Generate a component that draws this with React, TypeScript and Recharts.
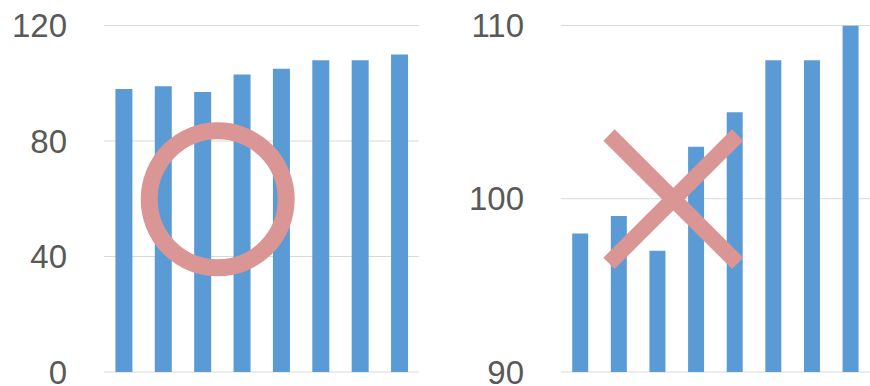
import React from 'react';
import { BarChart, Bar, XAxis, YAxis, CartesianGrid } from 'recharts';

const categories = ['1', '2', '3', '4', '5', '6', '7', '8'];
const values = [98, 99, 97, 103, 105, 108, 108, 110];
const leftTicks = [0, 40, 80, 120];
const rightTicks = [90, 100, 110];

const data = categories.map((name, i) => ({ name, value: values[i] }));

const BLUE = '#5b9bd5';
const PINK = '#d99694';
const tickStyle = { fill: '#595959', fontSize: 33, fontFamily: '"Liberation Sans", Arial, sans-serif' };

const App: React.FC = () => {
    return (
        <div style={{ position: 'absolute', left: 0, top: 0, width: 870, height: 386, background: '#fff' }}>
            <div style={{ position: 'absolute', left: 0, top: 0 }}>
                <BarChart width={435} height={386} data={data} margin={{ top: 25.5, right: 16, bottom: 14, left: 0 }} barCategoryGap="29%">
                    <CartesianGrid vertical={false} stroke="#d9d9d9" strokeWidth={1.2} />
                    <XAxis dataKey="name" hide />
                    <YAxis
                        width={104}
                        domain={[0, 120]}
                        ticks={leftTicks}
                        axisLine={false}
                        tickLine={false}
                        tickSize={0}
                        tickMargin={37}
                        tick={tickStyle}
                        interval={0}
                    />
                    <Bar dataKey="value" fill={BLUE} isAnimationActive={false} />
                </BarChart>
            </div>
            <div style={{ position: 'absolute', left: 435, top: 0 }}>
                <BarChart width={435} height={386} data={data} margin={{ top: 25.5, right: 0, bottom: 14, left: 0 }} barCategoryGap="29%">
                    <CartesianGrid vertical={false} stroke="#d9d9d9" strokeWidth={1.2} />
                    <XAxis dataKey="name" hide />
                    <YAxis
                        width={126}
                        domain={[90, 110]}
                        ticks={rightTicks}
                        allowDataOverflow
                        axisLine={false}
                        tickLine={false}
                        tickSize={0}
                        tickMargin={37}
                        tick={tickStyle}
                        interval={0}
                    />
                    <Bar dataKey="value" fill={BLUE} isAnimationActive={false} />
                </BarChart>
            </div>
            {/* annotation marks: circle on left chart, cross on right chart */}
            <svg width={870} height={386} style={{ position: 'absolute', left: 0, top: 0, pointerEvents: 'none' }}>
                <circle cx={217.7} cy={199.3} r={68.5} fill="none" stroke={PINK} strokeWidth={17} />
                <line x1={609} y1={135} x2={737.7} y2={263.3} stroke={PINK} strokeWidth={16} />
                <line x1={609} y1={263.3} x2={737.7} y2={135} stroke={PINK} strokeWidth={16} />
            </svg>
        </div>
    );
};

export default App;
